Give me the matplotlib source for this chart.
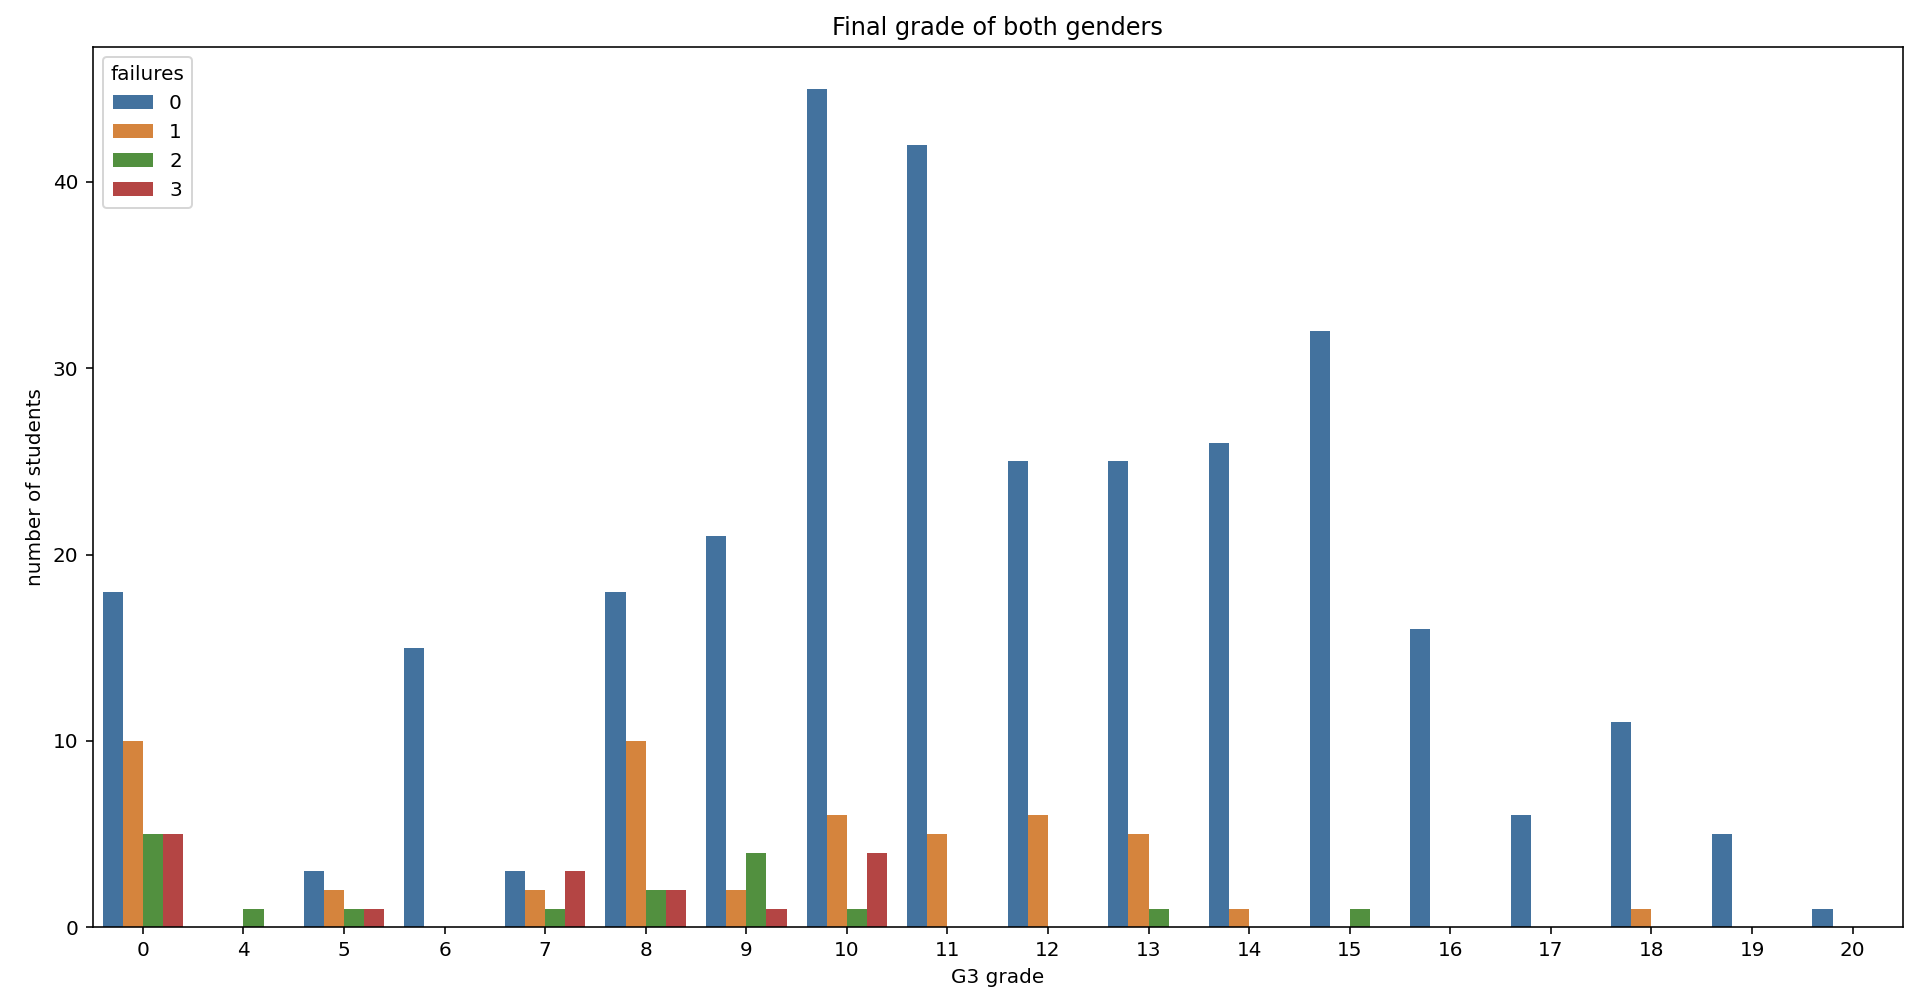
import matplotlib
matplotlib.use("Agg")
import matplotlib.pyplot as plt
import seaborn as sns
import pandas as pd

grades = ["0", "4", "5", "6", "7", "8", "9", "10", "11", "12", "13", "14", "15", "16", "17", "18", "19", "20"]
failures_0 = [18, 0, 3, 15, 3, 18, 21, 45, 42, 25, 25, 26, 32, 16, 6, 11, 5, 1]
failures_1 = [10, 0, 2, 0, 2, 10, 2, 6, 5, 6, 5, 1, 0, 0, 0, 1, 0, 0]
failures_2 = [5, 1, 1, 0, 1, 2, 4, 1, 0, 0, 1, 0, 1, 0, 0, 0, 0, 0]
failures_3 = [5, 0, 1, 0, 3, 2, 1, 4, 0, 0, 0, 0, 0, 0, 0, 0, 0, 0]
failure_levels = ["0", "1", "2", "3"]
colors = ["#43729e", "#d5843d", "#52903f", "#b44544"]

rows = []
for lvl, series in zip(failure_levels, [failures_0, failures_1, failures_2, failures_3]):
    for g, c in zip(grades, series):
        rows.append({"G3": g, "failures": lvl, "count": c})
df = pd.DataFrame(rows)

dpi = 144
fig = plt.figure(figsize=(1928 / dpi, 996 / dpi), dpi=dpi)
ax = fig.add_axes([0.048, 0.069, 0.939, 0.884])

sns.barplot(data=df, x="G3", y="count", hue="failures", order=grades,
            hue_order=failure_levels, palette=colors,
            saturation=1, ax=ax, errorbar=None)

ax.set_title("Final grade of both genders")
ax.set_xlabel("G3 grade")
ax.set_ylabel("number of students")
ax.legend(title="failures", loc="upper left")

fig.savefig("out.png", dpi=dpi)
